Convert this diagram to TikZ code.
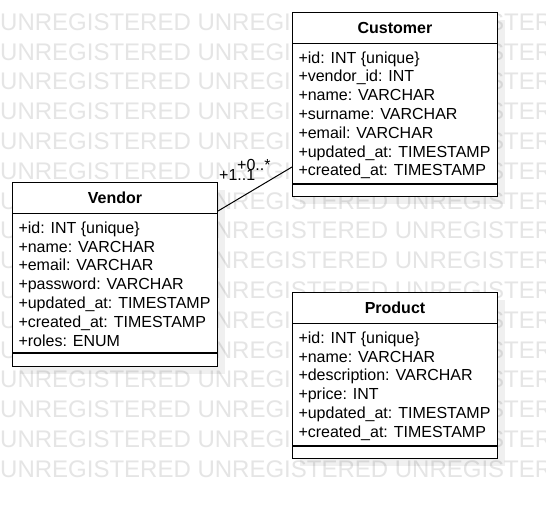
\documentclass[tikz,border=0pt]{standalone}
\usepackage{fontspec}
\setmainfont{Liberation Sans}
\begin{document}
\begin{tikzpicture}[x=1pt,y=-1pt,
  wm/.style={anchor=base west, inner sep=0pt, text=black!10, font=\fontsize{24}{24}\selectfont},
  box/.style={draw=black, fill=white, line width=1pt, inner sep=0pt, anchor=north west, minimum width=205pt},
  hdr/.style={box, minimum height=31pt, font=\fontsize{16}{16}\selectfont\bfseries},
  attrtext/.style={anchor=base west, inner sep=0pt, font=\fontsize{16}{19}\selectfont},
  shadowfill/.style={fill=black, opacity=0.06},
  divider/.style={line width=2pt},
  mult/.style={anchor=base west, inner sep=0pt, font=\fontsize{16}{16}\selectfont}
]
\useasboundingbox (0,0) rectangle (546,507);
\clip (0,0) rectangle (546,507);
\fill[white] (0,0) rectangle (546,507);
% watermark
\foreach \r [count=\i] in {0,...,15}
  \node[wm] (wm\i) at (0,30.2+\r*29.8) {UNREGISTERED UNREGISTERED UNREGISTERED};
% shadows
\fill[shadowfill] (300,20) rectangle (505,204);
\fill[shadowfill] (20,190) rectangle (225,374);
\fill[shadowfill] (300,300) rectangle (505,465.5);
% Customer
\node[hdr] (chdr) at (292,12) {Customer};
\node[box, minimum height=141pt] (cattr) at (292,43) {};
\node[box, minimum height=12pt] (cfoot) at (292,184) {};
\draw[divider] (cfoot.north west) -- (cfoot.north east);
\foreach \t [count=\k from 0] in {+id: INT \{unique\}, +vendor\_id: INT, +name: VARCHAR, +surname: VARCHAR, +email: VARCHAR, +updated\_at: TIMESTAMP, +created\_at: TIMESTAMP}
  \node[attrtext] (cline\k) at (298.3,63+\k*18.8) {\t};
% Vendor
\node[hdr] (vhdr) at (12,182) {Vendor};
\node[box, minimum height=140pt] (vattr) at (12,213) {};
\node[box, minimum height=13pt] (vfoot) at (12,353) {};
\draw[divider] (vfoot.north west) -- (vfoot.north east);
\foreach \t [count=\k from 0] in {+id: INT \{unique\}, +name: VARCHAR, +email: VARCHAR, +password: VARCHAR, +updated\_at: TIMESTAMP, +created\_at: TIMESTAMP, +roles: ENUM}
  \node[attrtext] (vline\k) at (18.3,233.3+\k*18.8) {\t};
% Product
\node[hdr] (phdr) at (292,292) {Product};
\node[box, minimum height=123pt] (pattr) at (292,323) {};
\node[box, minimum height=11.5pt] (pfoot) at (292,446) {};
\draw[divider] (pfoot.north west) -- (pfoot.north east);
\foreach \t [count=\k from 0] in {+id: INT \{unique\}, +name: VARCHAR, +description: VARCHAR, +price: INT, +updated\_at: TIMESTAMP, +created\_at: TIMESTAMP}
  \node[attrtext] (pline\k) at (298.3,343.3+\k*18.8) {\t};
% association
\coordinate (vend) at ([yshift=3pt]vhdr.south east);
\coordinate (cend) at ([yshift=18pt]cattr.south west);
\draw[line width=1pt] (vend) -- (cend);
\node[mult] (m1) at (219,180) {+1..1};
\node[mult] (m2) at (237,170) {+0..*};
\end{tikzpicture}
\end{document}
